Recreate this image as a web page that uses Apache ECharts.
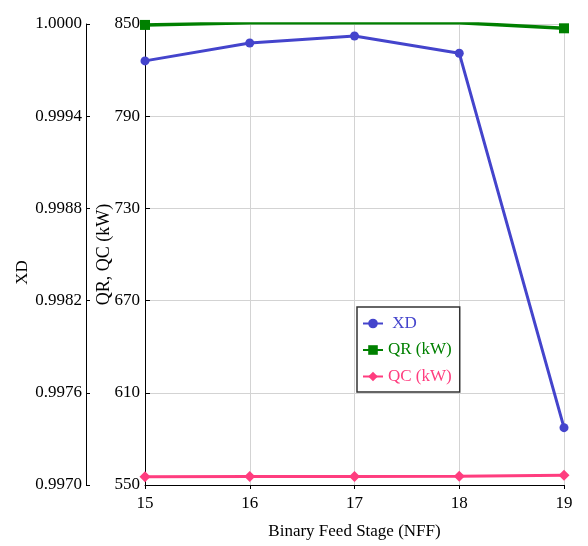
<!DOCTYPE html>
<html><head><meta charset="utf-8">
<script src="https://cdn.jsdelivr.net/npm/echarts@6/dist/echarts.min.js"></script>
<style>html,body{margin:0;padding:0;background:#fff}#c{width:588px;height:546px}</style>
</head><body><div id="c"></div>
<script>
var stages = [15, 16, 17, 18, 19];
var xd = [0.99976, 0.999876, 0.999922, 0.99981, 0.997373];
var qr = [849.4, 850.8, 850.8, 850.8, 847.2];
var qc = [555.4, 555.6, 555.6, 555.7, 556.3];
var xdTicks = [0.9970, 0.9976, 0.9982, 0.9988, 0.9994, 1.0000];
var qTicks = [550, 610, 670, 730, 790, 850];

var font = 'Liberation Serif';
function pairs(ys){ return stages.map(function(s,i){ return [s, ys[i]]; }); }
var chart = echarts.init(document.getElementById('c'));
chart.setOption({
  animation: false,
  grid: {left: 145, right: 24, top: 24, bottom: 61},
  xAxis: {
    type: 'value', min: 15, max: 19, interval: 1,
    name: 'Binary Feed Stage (NFF)', nameLocation: 'middle', nameGap: 38,
    nameTextStyle: {fontFamily: font, fontSize: 17, color: '#000'},
    axisLine: {lineStyle: {color: '#000', width: 1}},
    axisTick: {show: true, length: 4, lineStyle: {color: '#000'}},
    axisLabel: {fontFamily: font, fontSize: 17, color: '#000', margin: 10},
    splitLine: {show: true, lineStyle: {color: '#d3d3d3', width: 1}}
  },
  yAxis: [{
    type: 'value', position: 'left', offset: 59,
    min: xdTicks[0], max: xdTicks[xdTicks.length-1], interval: 0.0006,
    name: 'XD', nameLocation: 'middle', nameGap: 55, nameMoveOverlap: false,
    nameTextStyle: {fontFamily: font, fontSize: 17, color: '#000', padding: [0, 36, 0, 0]},
    axisLine: {show: true, lineStyle: {color: '#000', width: 1}},
    axisTick: {show: true, inside: true, length: 4, lineStyle: {color: '#000'}},
    axisLabel: {fontFamily: font, fontSize: 17, color: '#000', margin: 4,
      formatter: function(v){ return v.toFixed(4); }},
    splitLine: {show: false}
  }, {
    type: 'value', position: 'left',
    min: qTicks[0], max: qTicks[qTicks.length-1], interval: 60,
    name: 'QR, QC (kW)', nameLocation: 'middle', nameGap: 32, nameMoveOverlap: false,
    nameTextStyle: {fontFamily: font, fontSize: 18, color: '#000'},
    axisLine: {show: true, lineStyle: {color: '#000', width: 1}},
    axisTick: {show: true, inside: true, length: 5, lineStyle: {color: '#000'}},
    axisLabel: {fontFamily: font, fontSize: 17, color: '#000', margin: 5},
    splitLine: {show: true, lineStyle: {color: '#d3d3d3', width: 1}}
  }],
  legend: {
    orient: 'vertical', left: 357, top: 307,
    padding: [8, 8, 7, 5], itemGap: 9.5, itemWidth: 20, itemHeight: 12,
    backgroundColor: '#fff',
    borderColor: '#333', borderWidth: 1.5,
    textStyle: {fontFamily: font, fontSize: 17},
    data: [
      {name: ' XD', textStyle: {color: '#4444cc'}},
      {name: 'QR (kW)', textStyle: {color: '#008000'}},
      {name: 'QC (kW)', textStyle: {color: '#ff3d7f'}}
    ]
  },
  series: [{
    name: ' XD', type: 'line', yAxisIndex: 0, data: pairs(xd),
    symbol: 'circle', symbolSize: 9,
    lineStyle: {color: '#4444cc', width: 3}, itemStyle: {color: '#4444cc'}
  }, {
    name: 'QR (kW)', type: 'line', yAxisIndex: 1, data: pairs(qr),
    symbol: 'rect', symbolSize: 10,
    lineStyle: {color: '#008000', width: 3.5}, itemStyle: {color: '#008000'}
  }, {
    name: 'QC (kW)', type: 'line', yAxisIndex: 1, data: pairs(qc),
    symbol: 'diamond', symbolSize: 11,
    lineStyle: {color: '#ff3d7f', width: 3}, itemStyle: {color: '#ff3d7f'}
  }]
});
</script></body></html>
